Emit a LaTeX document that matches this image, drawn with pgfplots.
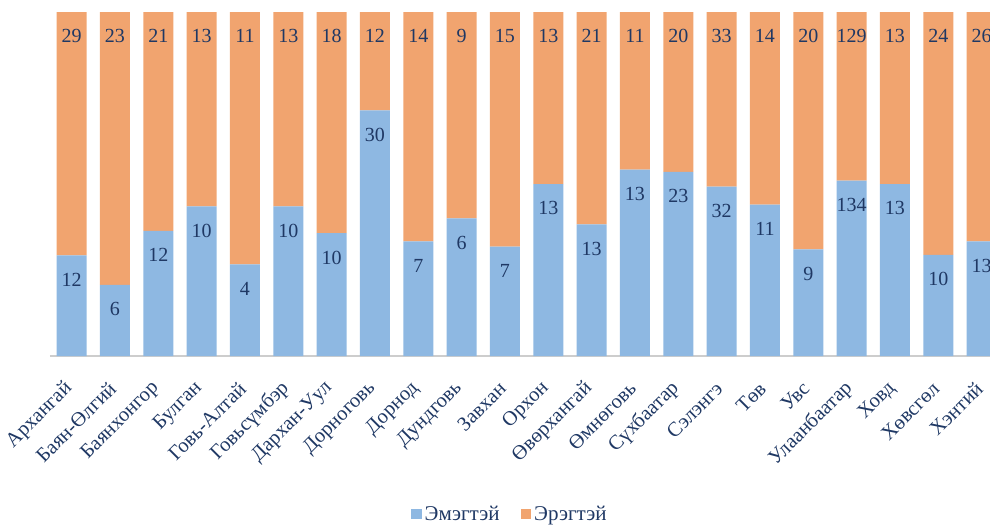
\documentclass[border=0pt]{standalone}
\usepackage{fontspec}
\setmainfont{Liberation Serif}
\usepackage{pgfplots}
\pgfplotsset{compat=1.18}
\definecolor{cblue}{RGB}{142,184,226}
\definecolor{corange}{RGB}{241,164,111}
\definecolor{ctext}{RGB}{31,56,100}
\definecolor{caxis}{RGB}{205,205,205}
\pgfplotsset{
  common/.style={at={(0pt,0pt)}, anchor=south west,
    scale only axis, width=953.3pt, height=344pt,
    xmin=-0.5, xmax=21.5, ymin=0, ymax=100},
}
\begin{document}
\begin{tikzpicture}
\begin{axis}[
  common,
  ybar stacked, bar width=30pt,
  axis y line=none, axis x line*=bottom,
  x axis line style={caxis, line width=1.2pt, -},
  xtick={0,...,21}, major tick length=0pt,
  xticklabels={Архангай, Баян-Өлгий, Баянхонгор, Булган, Говь-Алтай, Говьсүмбэр, Дархан-Уул, Дорноговь, Дорнод, Дундговь, Завхан, Орхон, Өвөрхангай, Өмнөговь, Сүхбаатар, Сэлэнгэ, Төв, Увс, Улаанбаатар, Ховд, Хөвсгөл, Хэнтий},
  xticklabel style={yshift=-27pt, rotate=45, anchor=east, font=\fontsize{20.5}{24}\selectfont, text=ctext},
  legend style={at={(0.4830,-0.4593)}, anchor=center, draw=none, legend columns=2,
    font=\fontsize{21}{23}\selectfont, text=ctext,
    nodes={inner xsep=3pt},
    /tikz/every even column/.append style={column sep=18pt}},
  legend image code/.code={\draw[#1, draw=none] (0pt,-5.25pt) rectangle (10.5pt,5.25pt);},
]
\addplot[fill=cblue, draw=none] coordinates {
(0,29.27) (1,20.69) (2,36.36) (3,43.48) (4,26.67) (5,43.48)
(6,35.71) (7,71.43) (8,33.33) (9,40.00) (10,31.82) (11,50.00)
(12,38.24) (13,54.17) (14,53.49) (15,49.23) (16,44.00) (17,31.03)
(18,50.95) (19,50.00) (20,29.41) (21,33.33)
};
\addplot[fill=corange, draw=none] coordinates {
(0,70.73) (1,79.31) (2,63.64) (3,56.52) (4,73.33) (5,56.52)
(6,64.29) (7,28.57) (8,66.67) (9,60.00) (10,68.18) (11,50.00)
(12,61.76) (13,45.83) (14,46.51) (15,50.77) (16,56.00) (17,68.97)
(18,49.05) (19,50.00) (20,70.59) (21,66.67)
};
\legend{Эмэгтэй, Эрэгтэй}
\end{axis}
\begin{axis}[
  common, hide axis, clip=false,
  nodes near coords, point meta=explicit symbolic,
  every node near coord/.append style={font=\fontsize{20}{24}\selectfont, text=ctext, anchor=base, yshift=-31pt},
]
% labels of the blue (women) segments, at the top of each blue segment
\addplot[draw=none, mark=none, only marks] coordinates {
(0,29.27)[12] (1,20.69)[6] (2,36.36)[12] (3,43.48)[10] (4,26.67)[4] (5,43.48)[10]
(6,35.71)[10] (7,71.43)[30] (8,33.33)[7] (9,40.00)[6] (10,31.82)[7] (11,50.00)[13]
(12,38.24)[13] (13,54.17)[13] (14,53.49)[23] (15,49.23)[32] (16,44.00)[11] (17,31.03)[9]
(18,50.95)[134] (19,50.00)[13] (20,29.41)[10] (21,33.33)[13]
};
% labels of the orange (men) segments, at the top of each bar
\addplot[draw=none, mark=none, only marks] coordinates {
(0,100)[29] (1,100)[23] (2,100)[21] (3,100)[13] (4,100)[11] (5,100)[13]
(6,100)[18] (7,100)[12] (8,100)[14] (9,100)[9] (10,100)[15] (11,100)[13]
(12,100)[21] (13,100)[11] (14,100)[20] (15,100)[33] (16,100)[14] (17,100)[20]
(18,100)[129] (19,100)[13] (20,100)[24] (21,100)[26]
};
\end{axis}
\pgfresetboundingbox
\path[use as bounding box] (-50pt,-169pt) rectangle (940pt,356pt);
\end{tikzpicture}
\end{document}
